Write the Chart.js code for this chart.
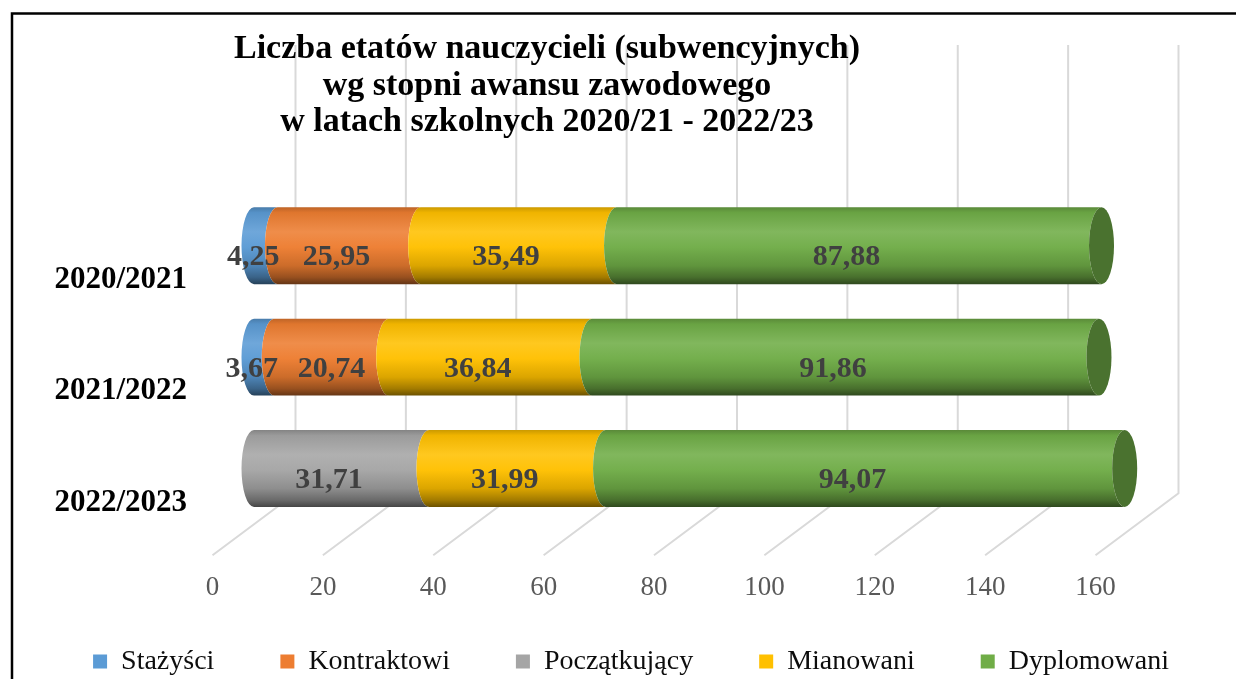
<!DOCTYPE html>
<html>
<head>
<meta charset="utf-8">
<script src="https://cdn.jsdelivr.net/npm/chart.js@4.4.1/dist/chart.umd.min.js"></script>
<style>
html,body{margin:0;padding:0;background:#ffffff;}
#wrap{width:1236px;height:679px;position:relative;}
canvas{display:block;}
</style>
</head>
<body>
<div id="wrap"><canvas id="c" width="1236" height="679"></canvas></div>
<script>
// ---- data ----
const categories = ['2020/2021', '2021/2022', '2022/2023'];
const seriesNames = ['Stażyści', 'Kontraktowi', 'Początkujący', 'Mianowani', 'Dyplomowani'];
const stazysci     = [4.25, 3.67, null];
const kontraktowi  = [25.95, 20.74, null];
const poczatkujacy = [null, null, 31.71];
const mianowani    = [35.49, 36.84, 31.99];
const dyplomowani  = [87.88, 91.86, 94.07];
const seriesColors = ['#5B9BD5', '#ED7D31', '#A5A5A5', '#FFC000', '#70AD47'];
const titleLines = [
  'Liczba etatów nauczycieli (subwencyjnych)',
  'wg stopni awansu zawodowego',
  'w latach szkolnych 2020/21 - 2022/23'
];
const xMin = 0, xMax = 160, xStep = 20;

// ---- styling constants ----
const SERIF = 'Liberation Serif';
const DX = 41.5;   // half depth, horizontal
const DY = 31;     // half depth, vertical
const RX = 12.5;   // cylinder end ellipse half-width
const PAD_L = 26;

function hexToRgb(h) {
  h = h.replace('#', '');
  return [parseInt(h.substr(0,2),16), parseInt(h.substr(2,2),16), parseInt(h.substr(4,2),16)];
}
function shade(hex, f) {
  const c = hexToRgb(hex).map(v => {
    if (f <= 1) return Math.round(v * f);
    return Math.round(v + (255 - v) * (f - 1));
  });
  return 'rgb(' + c.join(',') + ')';
}
const fmt = v => v.toFixed(2).replace('.', ',');

const seriesValues = [stazysci, kontraktowi, poczatkujacy, mianowani, dyplomowani];

const cylinderPlugin = {
  id: 'cylinders',
  beforeDatasetsDraw(chart) {
    const ctx = chart.ctx;
    const xs = chart.scales.x;
    const area = chart.chartArea;
    const backBottom = area.bottom - DY;
    const frontBottom = area.bottom + DY;
    ctx.save();
    // back wall grid + floor lines
    ctx.strokeStyle = '#d9d9d9';
    ctx.lineWidth = 2;
    xs.ticks.forEach(t => {
      const X = xs.getPixelForValue(t.value);
      ctx.beginPath();
      ctx.moveTo(X + DX, 45);
      ctx.lineTo(X + DX, backBottom);
      ctx.lineTo(X - DX, frontBottom);
      ctx.stroke();
    });
    // find last dataset per category
    const n = chart.data.labels.length;
    const lastDs = [];
    for (let j = 0; j < n; j++) {
      let last = -1;
      chart.data.datasets.forEach((ds, di) => { if (ds.data[j] != null) last = di; });
      lastDs.push(last);
    }
    chart.data.datasets.forEach((ds, di) => {
      const meta = chart.getDatasetMeta(di);
      const col = ds.backgroundColor;
      meta.data.forEach((el, j) => {
        if (ds.data[j] == null) return;
        const p = el.getProps(['x', 'y', 'base', 'height'], true);
        const top = p.y - p.height / 2, bot = p.y + p.height / 2, ry = p.height / 2;
        const g = ctx.createLinearGradient(0, top, 0, bot);
        g.addColorStop(0, shade(col, 0.80));
        g.addColorStop(0.07, shade(col, 0.94));
        g.addColorStop(0.32, shade(col, 1.12));
        g.addColorStop(0.52, shade(col, 1.03));
        g.addColorStop(0.76, shade(col, 0.86));
        g.addColorStop(0.91, shade(col, 0.64));
        g.addColorStop(1, shade(col, 0.42));
        ctx.beginPath();
        ctx.moveTo(p.base, top);
        ctx.lineTo(p.x, top);
        ctx.ellipse(p.x, p.y, RX, ry, 0, -Math.PI / 2, Math.PI / 2, true);
        ctx.lineTo(p.base, bot);
        ctx.ellipse(p.base, p.y, RX, ry, 0, Math.PI / 2, 3 * Math.PI / 2, false);
        ctx.closePath();
        ctx.fillStyle = g;
        ctx.fill();
        if (di === lastDs[j]) {
          ctx.beginPath();
          ctx.ellipse(p.x, p.y, RX, ry, 0, 0, Math.PI * 2);
          ctx.fillStyle = shade(col, 0.66);
          ctx.fill();
        }
      });
    });
    ctx.restore();
    return false;
  },
  afterDraw(chart) {
    const ctx = chart.ctx;
    ctx.save();
    // data labels (shifted to segment centre if they would crowd the previous label)
    ctx.font = 'bold 30px "' + SERIF + '"';
    ctx.fillStyle = '#404040';
    ctx.textAlign = 'center';
    ctx.textBaseline = 'middle';
    const n = chart.data.labels.length;
    for (let j = 0; j < n; j++) {
      let prevRight = -Infinity;
      chart.data.datasets.forEach((ds, di) => {
        const v = ds.data[j];
        if (v == null) return;
        const el = chart.getDatasetMeta(di).data[j];
        const p = el.getProps(['x', 'y', 'base'], true);
        const txt = fmt(v);
        const w = ctx.measureText(txt).width;
        let cx = (p.x + p.base) / 2 - RX;
        if (cx - w / 2 < prevRight + 14) cx = (p.x + p.base) / 2;
        ctx.fillText(txt, cx, p.y + 12);
        prevRight = cx + w / 2;
      });
    }
    // title
    ctx.font = 'bold 34px "' + SERIF + '"';
    ctx.fillStyle = '#000000';
    ctx.textBaseline = 'alphabetic';
    const baselines = [58, 94.5, 130.5];
    titleLines.forEach((t, i) => ctx.fillText(t, 547, baselines[i]));
    // frame
    ctx.strokeStyle = '#000000';
    ctx.lineWidth = 2.5;
    ctx.beginPath();
    ctx.moveTo(12, 679);
    ctx.lineTo(12, 13.5);
    ctx.lineTo(1236, 13.5);
    ctx.stroke();
    ctx.restore();
  }
};

const datasets = seriesNames.map((name, i) => ({
  label: name,
  data: seriesValues[i],
  backgroundColor: seriesColors[i],
  borderWidth: 0
}));

new Chart(document.getElementById('c'), {
  type: 'bar',
  data: { labels: categories, datasets: datasets },
  options: {
    responsive: false,
    animation: false,
    devicePixelRatio: 1,
    indexAxis: 'y',
    layout: { padding: { left: PAD_L, right: 0, top: 190, bottom: -6.5 } },
    datasets: { bar: { categoryPercentage: 1, barPercentage: 0.69 } },
    scales: {
      x: {
        stacked: true, min: xMin, max: xMax, position: 'bottom',
        grid: { display: false, drawTicks: false },
        border: { display: false },
        ticks: { stepSize: xStep, labelOffset: -DX, mirror: true, padding: -79.4, color: '#595959',
                 font: { family: SERIF, size: 27 } },
        afterFit(s) { s.height = 57.25; }
      },
      y: {
        stacked: true,
        grid: { display: false, drawTicks: false },
        border: { display: false },
        ticks: { labelOffset: 34, padding: 67, color: '#000000',
                 font: { family: SERIF, size: 31, weight: 'bold' } },
        afterFit(s) { s.width = 254 - PAD_L; }
      },
      yR: {
        type: 'category', position: 'right',
        grid: { display: false, drawTicks: false },
        border: { display: false },
        ticks: { display: false },
        afterFit(s) { s.width = 99; }
      }
    },
    plugins: {
      title: { display: false },
      tooltip: { enabled: false },
      legend: {
        position: 'bottom', align: 'center',
        labels: { boxWidth: 14, boxHeight: 14, padding: 66, color: '#0d0d0d',
                  font: { family: SERIF, size: 28 } }
      }
    }
  },
  plugins: [cylinderPlugin]
});
</script>
</body>
</html>
